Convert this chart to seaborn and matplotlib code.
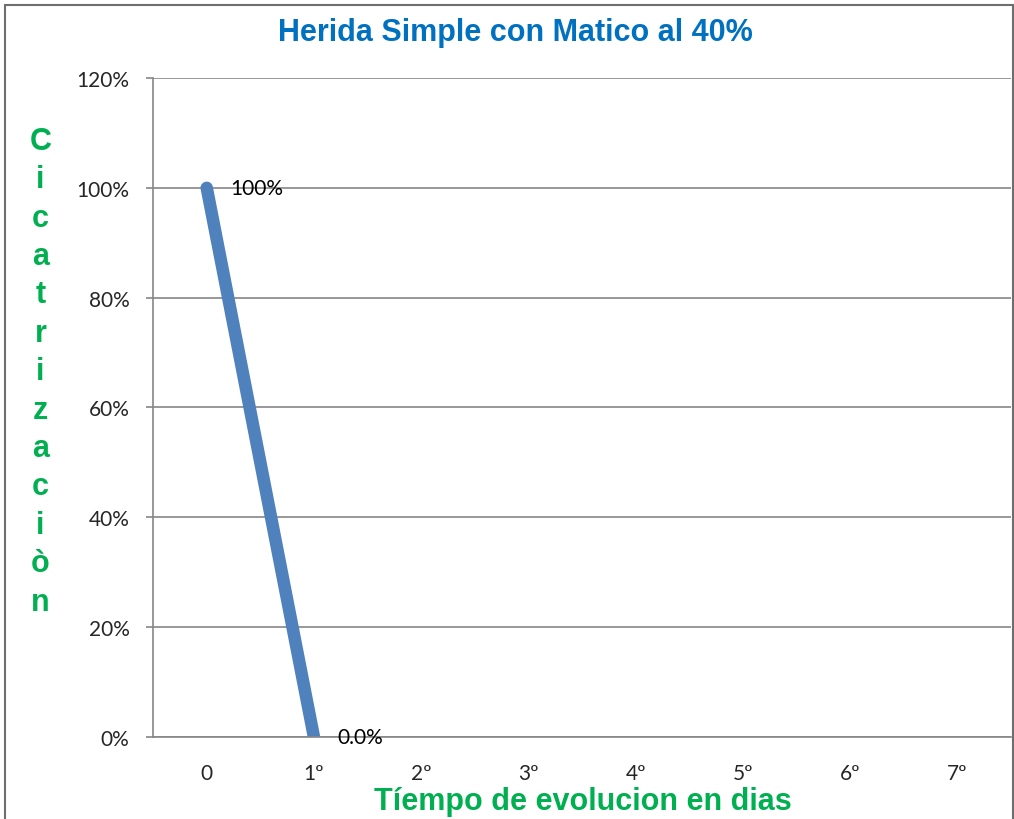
import numpy as np
import pandas as pd
import matplotlib
matplotlib.use("Agg")
import matplotlib.pyplot as plt
import seaborn as sns
from matplotlib.patches import Rectangle

# chart data
dias = ['0', '1º', '2º', '3º', '4º', '5º', '6º', '7º']
cicatrizacion = [1.0, 0.0, np.nan, np.nan, np.nan, np.nan, np.nan, np.nan]
etiquetas = ['100%', '0.0%']
y_ticks = [0, 0.2, 0.4, 0.6, 0.8, 1.0, 1.2]

df = pd.DataFrame({'pos': range(len(dias)), 'valor': cicatrizacion})

sns.set_style('white')
plt.rcParams['font.family'] = ['Lato', 'DejaVu Sans']

fig = plt.figure(figsize=(10.14, 8.2), dpi=100)
ax = fig.add_axes([0.151, 0.1, 0.846, 0.8037])

sns.lineplot(data=df, x='pos', y='valor', ax=ax, color='#4F81BD',
             linewidth=9, solid_capstyle='round')

# data labels
for i, txt in enumerate(etiquetas):
    ax.annotate(txt, (df['pos'][i], df['valor'][i]), xytext=(17, 0),
                textcoords='offset points', va='center', ha='left',
                fontsize=15, color='black')

ax.set_xlim(-0.5, len(dias) - 0.5)
ax.set_ylim(0, 1.2)
ax.set_yticks(y_ticks)
ax.set_yticklabels([f'{int(round(v * 100))}%' for v in y_ticks], fontsize=15)
ax.set_xticks(range(len(dias)))
ax.set_xticklabels(dias, fontsize=15)
ax.set_xticks(np.arange(-0.5, len(dias), 1), minor=True)
ax.tick_params(axis='x', which='major', length=0, pad=19)
ax.tick_params(axis='x', which='minor', length=5, color='#868686', width=1.2)
ax.tick_params(axis='y', length=5, color='#868686', width=1.2, left=True, pad=12)
ax.grid(axis='y', color='#868686', linewidth=1.2)
ax.set_axisbelow(True)
for s in ['top', 'right']:
    ax.spines[s].set_visible(False)
for s in ['left', 'bottom']:
    ax.spines[s].set_color('#868686')
    ax.spines[s].set_linewidth(1.2)
ax.set_xlabel('')
ax.set_ylabel('')

fig.text(0.508, 0.96, 'Herida Simple con Matico al 40%', ha='center', va='center',
         fontsize=22, fontweight='bold', color='#0070C0', family='Liberation Sans')
fig.text(0.575, 0.004, 'Tíempo de evolucion en dias', ha='center', va='bottom',
         fontsize=22, fontweight='bold', color='#00B050', family='Liberation Sans')
fig.text(0.04, 0.546, '\n'.join('Cicatrizaciòn'), ha='center', va='center',
         fontsize=22, fontweight='bold', color='#00B050', family='Liberation Sans',
         linespacing=1.365)

fig.patches.append(Rectangle((0.005, -0.05), 0.994, 1.043, transform=fig.transFigure,
                             fill=False, edgecolor='#6e6e6e', linewidth=1.5))

fig.savefig('out.png', dpi=100)
